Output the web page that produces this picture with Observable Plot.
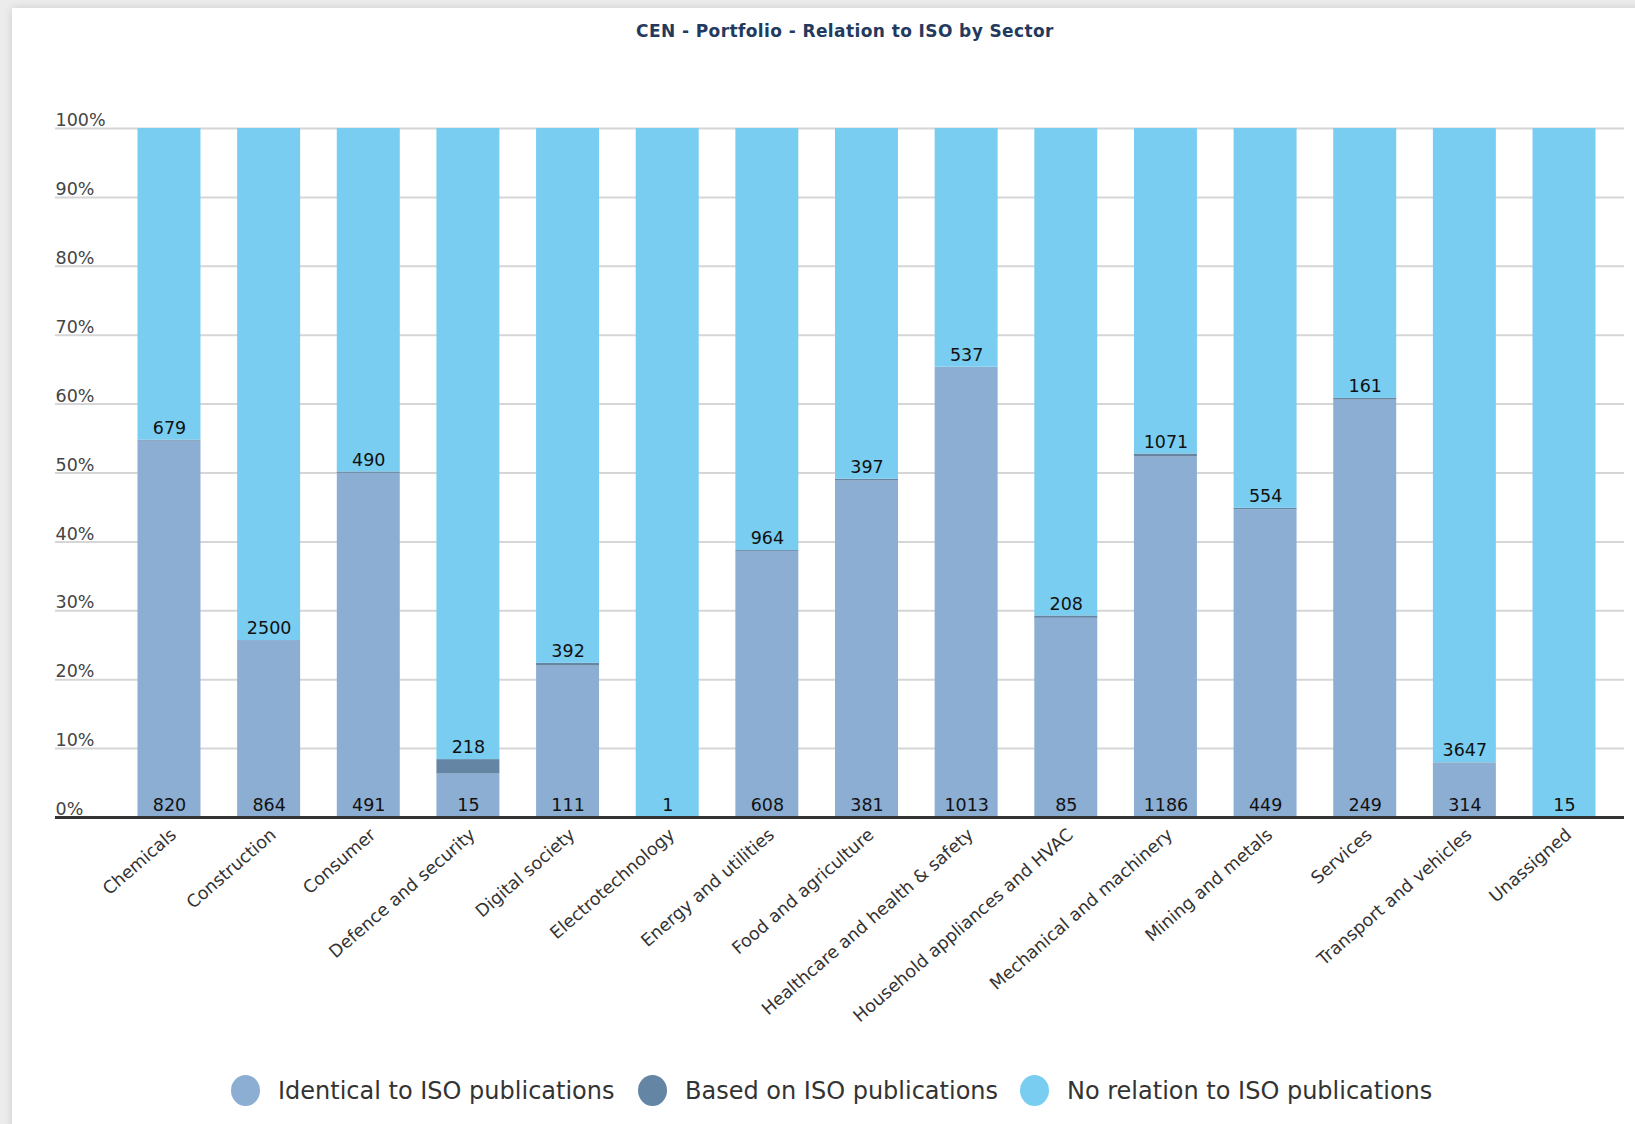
<!DOCTYPE html>
<html><head><meta charset="utf-8">
<script src="https://cdn.jsdelivr.net/npm/d3@7"></script>
<script src="https://cdn.jsdelivr.net/npm/@observablehq/plot@0.6"></script>
<style>
body{margin:0;background:#ececec;font-family:"DejaVu Sans",Verdana,sans-serif;}
#page{position:relative;width:1635px;height:1124px;overflow:hidden;background:#ececec;}
#card{position:absolute;left:12px;top:8px;width:1660px;height:1140px;background:#fff;box-shadow:0 0 9px rgba(0,0,0,0.13);}
#title{position:absolute;top:21px;left:0;width:1690px;text-align:center;font-weight:bold;font-size:17px;letter-spacing:0.4px;color:#233a5e;}
#chart{position:absolute;left:0;top:50px;}
.lgi{position:absolute;top:1075px;display:flex;align-items:center;font-size:24px;color:#333;white-space:nowrap;}
.lgi .sw{display:inline-block;width:29px;height:31px;border-radius:50%;margin-right:18px;}
</style></head>
<body><div id="page"><div id="card"></div>
<div id="title">CEN - Portfolio - Relation to ISO by Sector</div>
<div id="chart"></div>
</div>
<script>
const sectors = ["Chemicals","Construction","Consumer","Defence and security","Digital society","Electrotechnology","Energy and utilities","Food and agriculture","Healthcare and health & safety","Household appliances and HVAC","Mechanical and machinery","Mining and metals","Services","Transport and vehicles","Unassigned"];
const identical  = [820, 864, 491, 15, 111, 0, 608, 381, 1013, 85, 1186, 449, 249, 314, 0];
const based      = [2, 0, 2, 5, 2, 0, 2, 2, 0, 1, 10, 2, 1, 1, 0];
const noRelation = [679, 2500, 490, 218, 392, 1, 964, 397, 537, 208, 1071, 554, 161, 3647, 15];
const seriesNames = ["Identical to ISO publications","Based on ISO publications","No relation to ISO publications"];
const seriesColors = ["#8daed3","#6585a4","#79cdf0"];
const yTicks = [0,0.1,0.2,0.3,0.4,0.5,0.6,0.7,0.8,0.9,1];

const rows = sectors.flatMap((s,i)=>[
  {sector:s, series:seriesNames[0], value:identical[i]},
  {sector:s, series:seriesNames[1], value:based[i]},
  {sector:s, series:seriesNames[2], value:noRelation[i]}
]);
const totals = sectors.map((s,i)=>identical[i]+based[i]+noRelation[i]);
const idLabels = sectors.map((s,i)=>({sector:s, y:0, text:String(identical[i])})).filter((d,i)=>identical[i]>0);
const nrLabels = sectors.map((s,i)=>({sector:s, y:(identical[i]+based[i])/totals[i], text:String(noRelation[i])})).filter((d,i)=>noRelation[i]>0);

const font = "'DejaVu Sans', Verdana, sans-serif";
const numStyle = {fontSize:17.5, fill:"#111", letterSpacing:"2.6px"};
const chart = Plot.plot({
  width:1635, height:1000,
  marginTop:78, marginBottom:233, marginLeft:55, marginRight:11,
  x:{domain:sectors, range:[137.5,1595.5], paddingInner:0.368, paddingOuter:0, round:false, axis:null},
  y:{domain:[0,1], axis:null},
  color:{domain:seriesNames, range:seriesColors},
  style:{fontFamily:font, background:"transparent", overflow:"visible"},
  marks:[
    Plot.ruleY(yTicks, {stroke:"#d6d6d6", strokeWidth:2}),
    Plot.text(yTicks, {y:d=>d, text:d=>Math.round(d*100)+"%", frameAnchor:"left", textAnchor:"start", dy:-8, fontSize:17.5, fill:"#444", letterSpacing:"2.4px"}),
    Plot.barY(rows, Plot.stackY({offset:"normalize", x:"sector", y:"value", fill:"series"})),
    Plot.ruleY([0], {stroke:"#333", strokeWidth:3}),
    Plot.text(idLabels, {x:"sector", y:"y", text:"text", dy:-12, ...numStyle}),
    Plot.text(nrLabels, {x:"sector", y:"y", text:"text", dy:-12, ...numStyle}),
    Plot.text(sectors, {x:d=>d, text:d=>d, frameAnchor:"bottom", rotate:-41, textAnchor:"end", dx:8, dy:19, fontSize:17.5, fill:"#333"})
  ]
});
document.getElementById("chart").appendChild(chart);

const page = document.getElementById("page");
const lgLeft = [231, 638, 1020];
seriesNames.forEach((n,i)=>{
  const it = document.createElement("div"); it.className="lgi"; it.style.left = lgLeft[i]+"px";
  const sw = document.createElement("span"); sw.className="sw"; sw.style.background=seriesColors[i];
  it.appendChild(sw); it.appendChild(document.createTextNode(n));
  page.appendChild(it);
});
</script>
</body></html>
